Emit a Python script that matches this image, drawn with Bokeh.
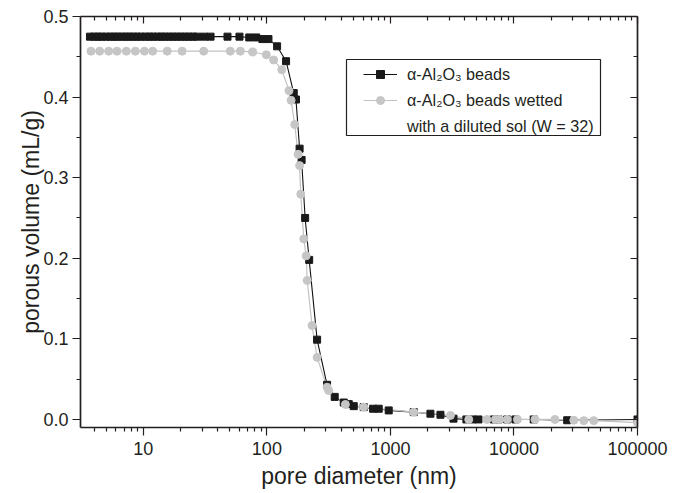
from bokeh.plotting import figure
from bokeh.models import (Range1d, LogAxis, LinearAxis, FixedTicker, PrintfTickFormatter,
                          CustomJSTickFormatter, Legend, LegendItem, BoxAnnotation)
from bokeh.embed import file_html
from bokeh.resources import INLINE

# alpha-Al2O3 beads (pore diameter nm, porous volume mL/g)
black_d = [3.7, 4.0, 4.3, 4.6, 5.0, 5.4, 5.8, 6.2, 6.7, 7.2, 7.7, 8.3, 8.9, 9.6, 10.4, 11.2,
           12.0, 13.0, 14.0, 15.0, 16.2, 17.4, 18.7, 20.2, 21.7, 23.4, 25.2, 27.2,
           31, 35, 48, 60, 72, 82, 92, 103,
           121, 143, 165, 172, 184, 191, 204, 220, 255, 307, 354, 419, 460, 505, 608, 724, 804, 969,
           1544, 2108, 2541, 3240, 4121, 4613, 5160, 6862, 7487, 8810, 10280, 14450, 26970, 100000]
black_v = [0.475] * 28 + [0.475, 0.475, 0.475, 0.475, 0.474, 0.474, 0.472, 0.472,
           0.463, 0.4445, 0.405, 0.397, 0.336, 0.322, 0.250, 0.198, 0.099, 0.043, 0.028, 0.021,
           0.019, 0.0165, 0.0153, 0.0133, 0.0133, 0.0112,
           0.0091, 0.0071, 0.0058, 0.001, 0.0, 0.0, 0.0, 0.0, 0.0, 0.0, 0.0, 0.0, -0.001, 0.0]

# alpha-Al2O3 beads wetted with a diluted sol (W = 32)
gray_d = [3.77, 4.43, 5.24, 6.12, 7.28, 8.61, 10.2, 11.9, 15.6, 20.6, 30.8, 50.6, 61,
          76.7, 99, 113.5, 132, 151, 157, 168, 179, 184, 188, 199, 208, 212, 232, 255, 307, 316,
          432, 608, 1544, 3060, 4306, 6040, 7080, 7630, 8810, 10670, 14790, 21480, 30500, 36750,
          44270, 100000]
gray_v = [0.457] * 13 + [0.456, 0.4525, 0.446, 0.434, 0.408, 0.396, 0.366, 0.329, 0.315,
          0.2795, 0.224, 0.203, 0.1725, 0.1166, 0.077, 0.040, 0.036,
          0.0186, 0.0153, 0.009, 0.005, 0.0, 0.0, 0.0, 0.0, 0.0, 0.0, 0.0, 0.0, -0.001, -0.0015,
          -0.0015, -0.004]

x_major = [10, 100, 1000, 10000, 100000]
x_minor = [m * 10 ** e for e in range(0, 5) for m in range(2, 10) if 3.1 <= m * 10 ** e <= 100000]
y_major = [0.0, 0.1, 0.2, 0.3, 0.4, 0.5]
y_minor = [0.05, 0.15, 0.25, 0.35, 0.45]

x_title = "pore diameter (nm)"
y_title = "porous volume (mL/g)"
label1 = "α-Al₂O₃ beads"
label2 = "α-Al₂O₃ beads wetted"
label3 = "with a diluted sol (W = 32)"

FONT = "Liberation Sans"
INK = "#231f20"

p = figure(width=690, height=493, x_axis_type="log",
           x_range=Range1d(3.1, 100000), y_range=Range1d(-0.01, 0.5),
           output_backend="svg", toolbar_location=None,
           min_border_left=80, min_border_right=53, min_border_top=16, min_border_bottom=66)
p.grid.visible = False
p.outline_line_color = None
p.background_fill_color = "white"
p.border_fill_color = "white"

rb_line = p.line(black_d, black_v, line_color="#111111", line_width=1.1)
rg_line = p.line(gray_d, gray_v, line_color="#c2c2c2", line_width=1.2)
rb_pts = p.scatter(black_d, black_v, marker="square", size=7, fill_color="#1a1a1a", line_color="#1a1a1a")
rg_pts = p.scatter(gray_d, gray_v, marker="circle", size=8, fill_color="#c6c6c6", line_color="#c6c6c6")
dummy = p.scatter(x=[1.0], y=[1.0], fill_alpha=0, line_alpha=0)


def style(ax, labels=True, inward=False):
    ax.axis_line_color = INK
    ax.axis_line_width = 1.7
    ax.major_tick_line_color = INK
    ax.minor_tick_line_color = INK
    ax.major_tick_line_width = 1.2
    ax.minor_tick_line_width = 1.2
    if inward:
        ax.major_tick_in, ax.major_tick_out = 7, 0
        ax.minor_tick_in, ax.minor_tick_out = 4, 0
    else:
        ax.major_tick_in, ax.major_tick_out = 0, 8
        ax.minor_tick_in, ax.minor_tick_out = 0, 4
    ax.major_label_text_font = FONT
    ax.major_label_text_color = INK
    if labels:
        ax.major_label_text_font_size = "18px"
    else:
        ax.formatter = CustomJSTickFormatter(code="return ''")
        ax.major_label_text_font_size = "4px"
        ax.major_label_standoff = 0
    ax.axis_label_text_font = FONT
    ax.axis_label_text_font_style = "normal"
    ax.axis_label_text_font_size = "23px"
    ax.axis_label_text_color = INK


xa = p.xaxis[0]
xa.ticker = FixedTicker(ticks=x_major, minor_ticks=x_minor)
xa.formatter = PrintfTickFormatter(format="%d")
xa.axis_label = x_title
style(xa)
xa.major_label_standoff = 6
xa.axis_label_standoff = 5

ya = p.yaxis[0]
ya.ticker = FixedTicker(ticks=y_major, minor_ticks=y_minor)
ya.formatter = PrintfTickFormatter(format="%.1f")
ya.axis_label = y_title
style(ya)
ya.major_label_standoff = 4
ya.axis_label_standoff = -4

top = LogAxis(ticker=FixedTicker(ticks=x_major, minor_ticks=x_minor))
style(top, labels=False, inward=True)
p.add_layout(top, "above")
right = LinearAxis(ticker=FixedTicker(ticks=y_major, minor_ticks=y_minor))
style(right, labels=False, inward=True)
p.add_layout(right, "right")

box = BoxAnnotation(left=346, right=600, top=59, bottom=135,
                    left_units="canvas", right_units="canvas", top_units="canvas", bottom_units="canvas",
                    fill_alpha=0, line_color=INK, line_alpha=1.0, line_width=1.2)
p.add_layout(box)

legend = Legend(items=[LegendItem(label=label1, renderers=[rb_line, rb_pts]),
                       LegendItem(label=label2, renderers=[rg_line, rg_pts]),
                       LegendItem(label=label3, renderers=[dummy])],
                location=(283, 291), padding=0, margin=0, spacing=6,
                glyph_width=34, glyph_height=20, label_height=20, label_standoff=10,
                border_line_alpha=0, background_fill_alpha=0,
                label_text_font=FONT, label_text_font_size="16.2px", label_text_color=INK)
p.add_layout(legend)

open("out.html", "w").write(file_html(p, INLINE))
